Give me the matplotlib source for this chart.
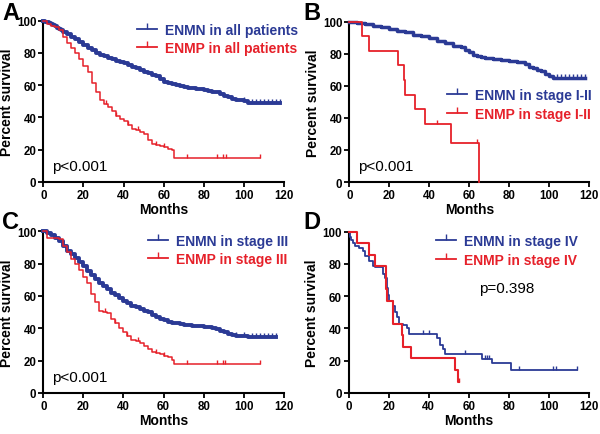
import matplotlib
matplotlib.use("Agg")
import matplotlib.pyplot as plt
from matplotlib.lines import Line2D
import numpy as np

plt.rcParams['font.family'] = ['Liberation Sans', 'DejaVu Sans']

BLUE = "#2b3a95"
RED = "#e6212a"

# -------------------------------------------------------------
# Survival data (months, percent survival)
# -------------------------------------------------------------
# A: all patients
a_enmn_t = [0, 1, 2, 3, 4, 5, 6, 7, 8, 9, 10, 12, 14, 16, 18, 20, 22, 24, 26, 28, 30,
            32, 34, 36, 38, 40, 42, 44, 46, 48, 50, 52, 54, 56, 58, 60, 62, 64, 66, 68,
            70, 72, 74, 76, 78, 80, 82, 84, 86, 88, 90, 92, 94, 96, 98, 100, 102]
a_enmn_s = [100, 99.5, 99, 98.5, 98, 97.5, 96.5, 95.5, 95, 94, 93, 91.5, 90, 88.5, 87,
            85, 83, 81.5, 80, 79, 78, 77, 76, 75, 74.5, 73.5, 72.5, 71.5, 70.5, 69.5, 68,
            67.5, 66.5, 65.5, 64, 62, 61, 60.5, 60, 59.5, 59, 58.5, 58, 57.5, 57.5, 57,
            56.5, 56, 55.5, 54.5, 53.5, 52.5, 51.5, 51, 50.5, 50, 49]
a_enmn_end = 118
a_enmn_cens = [100, 104, 106, 108, 110, 112, 114, 116, 118]

a_enmp_t = [0, 2, 4, 6, 8, 10, 12, 14, 16, 18, 20, 22, 24, 26, 28, 30, 32, 34, 36, 38,
            40, 42, 44, 46, 48, 50, 52, 54, 56, 58, 60, 62, 64, 65.3]
a_enmp_s = [100, 98, 97, 96, 94.5, 90, 86, 83, 80, 76, 72, 68, 61, 56, 51, 48, 46.5, 44,
            41, 39, 37.5, 35, 33, 32, 31, 29.5, 26, 23.5, 22.5, 22, 21.5, 20.5, 19.5, 14.5]
a_enmp_end = 108
a_enmp_cens = [31, 36, 42, 47, 56, 60, 71.5, 86.5, 89.7, 90.8, 108]

# B: stage I-II
b_enmn_t = [0, 4, 8, 12, 16, 20, 24, 28, 32, 36, 40, 44, 48, 52, 56, 58, 60, 62, 64, 66,
            68, 72, 76, 80, 84, 88, 90, 92, 94, 96, 98, 100, 102]
b_enmn_s = [100, 99.5, 98.5, 97.5, 96.5, 95.5, 94.5, 93.5, 92, 91, 90, 88, 86.5, 85, 84,
            82.5, 81, 79.5, 78.5, 78, 77.5, 77, 76, 75.5, 75, 73.5, 72, 71, 70, 69, 67.5,
            66, 65]
b_enmn_end = 118
b_enmn_cens = [104, 106, 108, 110, 112, 114, 116, 118]

b_enmp_t = [0, 6.5, 10, 24.5, 27.5, 28, 33, 38, 51, 65]
b_enmp_s = [100, 90.9, 81.8, 72.7, 63.6, 54.5, 45.5, 36.4, 24.2, 0]
b_enmp_end = 65
b_enmp_cens = [44, 63.7]

# C: stage III
c_enmn_t = [0, 2, 4, 6, 8, 10, 12, 14, 16, 18, 20, 22, 24, 26, 28, 30, 32, 34, 36, 38,
            40, 42, 44, 46, 48, 50, 52, 54, 56, 58, 60, 62, 64, 66, 68, 70, 72, 74, 76,
            78, 80, 82, 84, 86, 88, 90, 92, 94, 96, 98, 100, 102]
c_enmn_s = [100, 99, 98, 96, 94, 91, 88, 86, 83.5, 81, 78.5, 75.5, 73, 70.5, 68, 66,
            64, 62, 60.5, 59, 57, 55.5, 54, 53, 52, 51, 50, 48.5, 47, 46, 45, 44, 43.5,
            43, 42.5, 42, 42, 41.5, 41.5, 41.5, 41, 40.5, 40, 39.5, 38.5, 37.5, 36.5, 36,
            35.5, 35.5, 35, 34.5]
c_enmn_end = 116
c_enmn_cens = [96, 100, 104, 106, 108, 110, 112, 114, 116]

c_enmp_t = [0, 2, 8, 10, 12, 14, 16, 18, 20, 22, 24, 26, 28, 30, 32, 34, 36, 38, 40, 42,
            44, 46, 48, 50, 52, 54, 56, 58, 60, 62, 64, 65.3]
c_enmp_s = [100, 96, 95, 91, 87, 83, 80, 76, 72, 68, 61, 56, 51, 50, 49.5, 46, 43, 40,
            37.5, 35, 33, 32, 31, 29, 27, 25.5, 24.5, 24, 23, 22, 20.5, 18]
c_enmp_end = 108
c_enmp_cens = [31, 36, 42, 47, 56, 60, 71.5, 86.5, 89.7, 90.8, 108]

# D: stage IV
d_enmn_t = [0, 0.5, 1, 2, 3, 5, 7, 8, 10, 12, 13, 17, 18, 19, 19.5, 20, 22, 23, 24, 25,
            27, 29, 30, 44, 45.5, 47, 48, 66.5, 71.5, 81]
d_enmn_s = [100, 97, 95, 93, 91, 90, 88, 85, 82, 79, 78, 74, 71, 65, 61, 57, 54, 50, 47,
            43, 42, 40, 36.5, 34, 30, 27, 24, 21.3, 18.3, 14.3]
d_enmn_end = 114
d_enmn_cens = [37, 40, 58, 68, 69, 70, 85, 102, 103.5, 114]

d_enmp_t = [0, 4, 10, 13.2, 18.5, 18.8, 19.2, 22, 22.3, 26.8, 27, 31, 53, 54.5]
d_enmp_s = [100, 92.9, 85.7, 78.6, 71.4, 64.3, 57.1, 50, 42.9, 35.7, 28.6, 21.4, 14.3, 7.1]
d_enmp_end = 55
d_enmp_cens = [55]

# -------------------------------------------------------------
# Helpers
# -------------------------------------------------------------
def km(ax, t, s, t_end, cens, color, lw):
    tt = list(t) + [t_end]
    ss = list(s) + [s[-1]]
    ax.step(tt, ss, where="post", color=color, lw=lw, clip_on=False, zorder=3)
    t_arr = np.array(t)
    idx = np.searchsorted(t_arr, cens, side="right") - 1
    cy = np.array(s)[idx]
    ax.plot(cens, cy, ls="none", marker=2, ms=3.2, mew=1.0, color=color,
            clip_on=False, zorder=3)


def style(ax):
    for side in ["top", "right"]:
        ax.spines[side].set_visible(False)
    for side in ["left", "bottom"]:
        ax.spines[side].set_linewidth(1.5)
    ax.set_xlim(0, 120)
    ax.set_ylim(0, 100)
    ax.set_xticks(range(0, 121, 20))
    ax.set_yticks(range(0, 101, 20))
    ax.tick_params(direction="out", length=3.5, width=1.3, labelsize=8.3, pad=1.5)
    for lab in ax.get_xticklabels() + ax.get_yticklabels():
        lab.set_fontweight("bold")
    ax.set_xlabel("Months", fontsize=10, fontweight="bold", labelpad=1)
    ax.set_ylabel("Percent survival", fontsize=10, fontweight="bold", labelpad=2)


def legend(ax, labels, anchor):
    handles = [Line2D([], [], color=BLUE, lw=1.3, marker=2, ms=4, mew=1.0),
               Line2D([], [], color=RED, lw=1.3, marker=2, ms=4, mew=1.0)]
    leg = ax.legend(handles, labels, loc="upper left", bbox_to_anchor=anchor,
                    frameon=False, borderpad=0, borderaxespad=0, handlelength=1.45,
                    handletextpad=0.55, labelspacing=0.33, numpoints=1,
                    prop={"size": 10, "weight": "bold"})
    for txt, c in zip(leg.get_texts(), [BLUE, RED]):
        txt.set_color(c)


fig = plt.figure(figsize=(6, 4.35), dpi=100)

axA = fig.add_axes([0.0722, 0.5800, 0.4017, 0.3701])
axB = fig.add_axes([0.5822, 0.5793, 0.4000, 0.3685])
axC = fig.add_axes([0.0722, 0.0943, 0.4008, 0.3717])
axD = fig.add_axes([0.5812, 0.0943, 0.4000, 0.3708])

km(axA, a_enmn_t, a_enmn_s, a_enmn_end, a_enmn_cens, BLUE, 2.8)
km(axA, a_enmp_t, a_enmp_s, a_enmp_end, a_enmp_cens, RED, 1.1)
km(axB, b_enmn_t, b_enmn_s, b_enmn_end, b_enmn_cens, BLUE, 2.5)
km(axB, b_enmp_t, b_enmp_s, b_enmp_end, b_enmp_cens, RED, 1.3)
km(axC, c_enmn_t, c_enmn_s, c_enmn_end, c_enmn_cens, BLUE, 2.8)
km(axC, c_enmp_t, c_enmp_s, c_enmp_end, c_enmp_cens, RED, 1.1)
km(axD, d_enmn_t, d_enmn_s, d_enmn_end, d_enmn_cens, BLUE, 1.3)
km(axD, d_enmp_t, d_enmp_s, d_enmp_end, d_enmp_cens, RED, 1.5)

for ax in [axA, axB, axC, axD]:
    style(ax)

legend(axA, ["ENMN in all patients", "ENMP in all patients"], (0.389, 0.988))
legend(axB, ["ENMN in stage I-II", "ENMP in stage I-II"], (0.407, 0.585))
legend(axC, ["ENMN in stage III", "ENMP in stage III"], (0.435, 0.985))
legend(axD, ["ENMN in stage IV", "ENMP in stage IV"], (0.364, 0.985))

axA.text(4.5, 10, "p<0.001", fontsize=11, va="center")
axB.text(4.3, 10, "p<0.001", fontsize=11, va="center")
axC.text(4.5, 10, "p<0.001", fontsize=11, va="center")
axD.text(65, 65, "p=0.398", fontsize=11, va="center")

for lbl, x, y in [("A", 0.004, 0.995), ("B", 0.505, 0.995),
                  ("C", 0.004, 0.515), ("D", 0.505, 0.515)]:
    fig.text(x, y, lbl, fontsize=17, fontweight="bold", va="top")

fig.savefig("out.png", dpi=100)
